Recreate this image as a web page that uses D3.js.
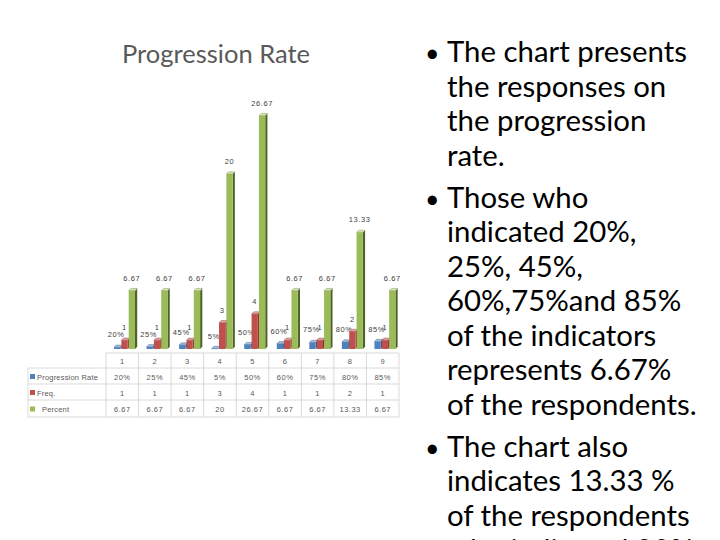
<!DOCTYPE html>
<html>
<head>
<meta charset="utf-8">
<script src="https://cdn.jsdelivr.net/npm/d3@7"></script>
<style>
  html, body { margin: 0; padding: 0; background: #ffffff; }
  svg { display: block; }
</style>
</head>
<body>
<svg id="chart" width="720" height="540"></svg>
<script>
// ---------------- data ----------------
const categories = ["1", "2", "3", "4", "5", "6", "7", "8", "9"];
const seriesNames = ["Progression Rate", "Freq.", "Percent"];
const progressionRate = [0.20, 0.25, 0.45, 0.05, 0.50, 0.60, 0.75, 0.80, 0.85];
const freq = [1, 1, 1, 3, 4, 1, 1, 2, 1];
const percent = [6.67, 6.67, 6.67, 20, 26.67, 6.67, 6.67, 13.33, 6.67];
const percentLabels = ["6.67", "6.67", "6.67", "20", "26.67", "6.67", "6.67", "13.33", "6.67"];
const title = "Progression Rate";
const bulletParagraphs = [
  ["The chart presents", "the responses on", "the progression", "rate."],
  ["Those who", "indicated 20%,", "25%, 45%,", "60%,75%and 85%", "of the indicators", "represents 6.67%", "of the respondents."],
  ["The chart also", "indicates 13.33 %", "of the respondents", "who indicated 80%."]
];

// ---------------- styles ----------------
const fills = ["#4f81bd", "#c0504d", "#9bbb59"];
const sides = ["#2f5584", "#8c2f2c", "#4f6228"];
const tops = ["#a7c0de", "#e0a9a7", "#d7e4bd"];
const textGray = "#595959";

const svg = d3.select("#chart");

// title
svg.append("text")
  .attr("x", 216).attr("y", 63)
  .attr("text-anchor", "middle")
  .attr("font-family", "Lato, 'Open Sans', sans-serif")
  .attr("font-size", 25.5)
  .attr("fill", textGray)
  .text(title);

// ---------------- scales ----------------
const tableLeft = 28, plotLeft = 106, plotRight = 399;
const baseY = 349;
const x = d3.scaleBand().domain(categories).range([plotLeft, plotRight]).padding(0);
const xs = d3.scaleBand().domain(seriesNames).range([8, 29]).paddingInner(1 / 7).paddingOuter(0);
const y = d3.scaleLinear().domain([0, 30]).range([baseY, baseY - 30 * 8.75]);

const seriesValues = [progressionRate, freq, percent];
const seriesLabels = [
  progressionRate.map(d3.format(".0%")),
  freq.map(String),
  percentLabels
];

const depth = 2.2;
const g = svg.append("g");

categories.forEach((c, i) => {
  seriesNames.forEach((s, k) => {
    const v = seriesValues[k][i];
    const bx = x(c) + xs(s);
    const bw = xs.bandwidth();
    const by = y(v);
    const bh = baseY - by;
    // side face
    g.append("path")
      .attr("d", `M${bx + bw},${by} L${bx + bw + depth},${by - depth} L${bx + bw + depth},${baseY - depth} L${bx + bw},${baseY} Z`)
      .attr("fill", sides[k]);
    // top face
    g.append("path")
      .attr("d", `M${bx},${by} L${bx + depth},${by - depth} L${bx + bw + depth},${by - depth} L${bx + bw},${by} Z`)
      .attr("fill", tops[k])
      .attr("stroke", k === 2 ? "#6f8a3a" : sides[k])
      .attr("stroke-width", 0.4);
    // front
    g.append("rect")
      .attr("x", bx).attr("y", by)
      .attr("width", bw).attr("height", Math.max(bh, 0.5))
      .attr("fill", fills[k]);
    // label
    g.append("text")
      .attr("x", bx + bw / 2 + (k === 0 ? -1 : 0))
      .attr("y", by - 10)
      .attr("text-anchor", "middle")
      .attr("font-family", "'Liberation Sans', Arial, sans-serif")
      .attr("font-size", 7.5)
      .attr("letter-spacing", 0.6)
      .attr("fill", "#404040")
      .text(seriesLabels[k][i]);
  });
});

// ---------------- data table ----------------
const rowEdges = [353, 368, 384, 400, 417];
const lineColor = "#d9d9d9";
const tg = svg.append("g");

// horizontal lines
rowEdges.forEach((ry, r) => {
  tg.append("line")
    .attr("x1", r === 0 ? plotLeft : tableLeft).attr("x2", plotRight)
    .attr("y1", ry).attr("y2", ry)
    .attr("stroke", lineColor).attr("stroke-width", 1);
});
// vertical lines
tg.append("line").attr("x1", tableLeft).attr("x2", tableLeft)
  .attr("y1", rowEdges[1]).attr("y2", rowEdges[4])
  .attr("stroke", lineColor);
categories.forEach(c => {
  tg.append("line").attr("x1", x(c)).attr("x2", x(c))
    .attr("y1", rowEdges[0]).attr("y2", rowEdges[4])
    .attr("stroke", lineColor);
});
tg.append("line").attr("x1", plotRight).attr("x2", plotRight)
  .attr("y1", rowEdges[0]).attr("y2", rowEdges[4])
  .attr("stroke", lineColor);

const cellText = (tx, ty, t, anchor) => tg.append("text")
  .attr("x", tx).attr("y", ty)
  .attr("text-anchor", anchor || "middle")
  .attr("dominant-baseline", "central")
  .attr("font-family", "'Liberation Sans', Arial, sans-serif")
  .attr("font-size", 7.5)
  .attr("letter-spacing", 0.5)
  .attr("fill", textGray)
  .text(t);

categories.forEach(c => cellText(x(c) + x.bandwidth() / 2, (rowEdges[0] + rowEdges[1]) / 2 + 1, c));
seriesNames.forEach((s, k) => {
  const cy = (rowEdges[k + 1] + rowEdges[k + 2]) / 2 + 1;
  tg.append("rect").attr("x", 30).attr("y", cy - 3).attr("width", 5).attr("height", 5).attr("fill", fills[k]);
  cellText(k === 2 ? 42 : 37, cy, s, "start").attr("letter-spacing", 0.2);
  categories.forEach((c, i) => cellText(x(c) + x.bandwidth() / 2, cy, seriesLabels[k][i]));
});

// ---------------- bullet text ----------------
const bg = svg.append("g")
  .attr("font-family", "Lato, 'Open Sans', sans-serif")
  .attr("fill", "#000000");
const fontSize = 28;
let baseline = 62;
bulletParagraphs.forEach((para, p) => {
  if (p > 0) baseline += 42;
  bg.append("text").attr("x", 425).attr("y", baseline).attr("font-size", fontSize).attr("class", "bullet").text("•");
  para.forEach((line, j) => {
    if (j > 0) baseline += 34.5;
    bg.append("text").attr("x", 447).attr("y", baseline).attr("font-size", fontSize).text(line);
  });
});
// fit width to the reference (first line ~240px wide)
const firstLine = bg.selectAll("text").filter((d, i, n) => n[i].textContent === "The chart presents").node();
const w = firstLine.getComputedTextLength();
const scale = 240 / w;
bg.selectAll("text").attr("font-size", fontSize * scale);
bg.selectAll("text.bullet").attr("font-size", fontSize * scale * 0.85);
</script>
</body>
</html>
